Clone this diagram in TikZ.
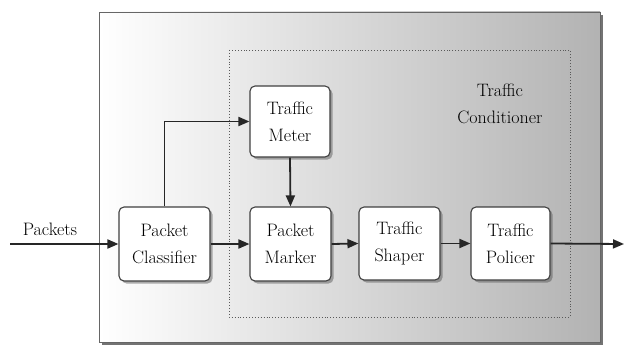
\documentclass[tikz,border=0pt]{standalone}
\usetikzlibrary{arrows.meta,shadows,positioning}
\begin{document}
\begin{tikzpicture}[x=1pt,y=-1pt,
  font=\fontsize{18}{27}\selectfont,
  block/.style={draw=black!75, line width=1.1pt, rounded corners=5pt,
    fill=white, align=center, minimum width=80pt, minimum height=73pt,
    inner sep=2pt,
    drop shadow={shadow xshift=2.5pt, shadow yshift=-2.5pt, opacity=0.45, fill=black!70}},
  flow/.style={line width=1.8pt, draw=black!85,
    -{Triangle[length=11pt,width=9pt]}},
  label/.style={align=center, inner sep=0pt}]
\useasboundingbox (0,0) rectangle (624,345);

% outer frame with its shadow edge
\fill[black!55] (102,15) rectangle (603,345);
\shade[left color=white, middle color=black!12, right color=black!30]
  (99,12) rectangle (600,342);
\draw[black!60, line width=0.8pt] (99,12) rectangle (600,342);

% conditioner region
\draw[black!65, line width=0.9pt, dotted] (229,50) rectangle (570,317);
\node[label] (tclabel) at (500,104) {Traffic\\Conditioner};

% blocks
\node[block, minimum width=91pt, minimum height=74pt] (pc) at (164.5,244) {Packet\\Classifier};
\node[block, minimum height=71pt] (meter) at (290,121.5) {Traffic\\Meter};
\node[block, minimum width=81pt, minimum height=74pt] (marker) at (290.5,244) {Packet\\Marker};
\node[block, minimum width=81pt] (shaper) at (399.5,243.5) {Traffic\\Shaper};
\node[block, minimum width=79pt] (policer) at (510.5,243.5) {Traffic\\Policer};

% packet input and output
\coordinate (in) at (10,244);
\coordinate (out) at (624,244);
\node[label] (packets) at (50,229) {Packets};

% connectors
\draw[flow] (in) -- (pc.west);
\draw[flow] (pc.north) |- (meter.west);
\draw[flow] (meter.south) -- (marker.north);
\draw[flow] (pc.east) -- (marker.west);
\draw[flow] (marker.east) -- (shaper.west);
\draw[flow] (shaper.east) -- (policer.west);
\draw[flow] (policer.east) -- (out);
\end{tikzpicture}
\end{document}
